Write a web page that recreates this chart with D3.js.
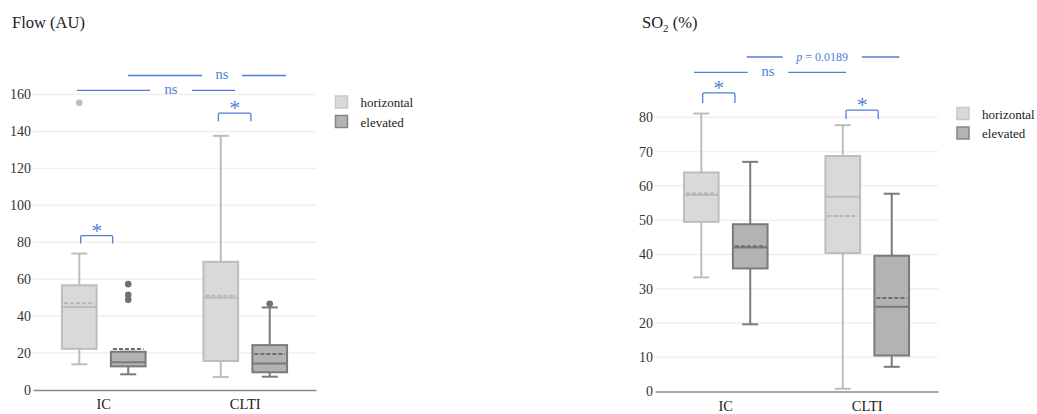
<!DOCTYPE html>
<html>
<head>
	<meta charset="utf-8">
	<title>Flow and SO2</title>
	<style>
		body { margin: 0; background: #fff; }
		svg { display: block; }
	</style>
</head>
<body>
	<svg width="1037" height="414" font-family="Liberation Serif"></svg>
<script src="https://cdn.jsdelivr.net/npm/d3@7"></script>
<script>
	// categories and groups
	const categories = ["IC", "CLTI"]
	const groups = ["horizontal", "elevated"]

	// box order: IC-horizontal, IC-elevated, CLTI-horizontal, CLTI-elevated
	const flowMin = [13.9, 8.5, 7.0, 7.2]
	const flowQ1 = [22.3, 12.8, 15.7, 9.6]
	const flowMedian = [44.9, 15.0, 49.9, 14.4]
	const flowQ3 = [56.7, 20.7, 69.4, 24.3]
	const flowMax = [73.9, 20.7, 137.6, 44.7]
	const flowMean = [47.0, 22.2, 51.0, 19.5]
	const flowOutliers = [[155.5], [57.3, 51.5, 48.8], [], [46.7]]
	const flowTicks = [0, 20, 40, 60, 80, 100, 120, 140, 160]

	const so2Min = [33.3, 19.6, 0.8, 7.2]
	const so2Q1 = [49.5, 35.9, 40.4, 10.5]
	const so2Median = [57.3, 42.0, 56.8, 24.7]
	const so2Q3 = [63.9, 48.8, 68.7, 39.6]
	const so2Max = [81.1, 67.0, 77.7, 57.7]
	const so2Mean = [57.8, 42.4, 51.2, 27.3]
	const so2Outliers = [[], [], [], []]
	const so2Ticks = [0, 10, 20, 30, 40, 50, 60, 70, 80]

	// significance marks: x in category units (0 = IC, 1 = CLTI)
	const flowStars = [{ x1: -0.163, x2: 0.063, y: 83.6, leg: 8 }, { x1: 0.81, x2: 1.04, y: 149.9, leg: 8 }]
	const flowLines = [
		{ x1: -0.189, g1: 0.327, g2: 0.623, x2: 0.928, y: 162.2, label: "ns" },
		{ x1: 0.171, g1: 0.694, g2: 0.977, x2: 1.288, y: 170.3, label: "ns" }
	]
	const so2Stars = [{ x1: -0.163, x2: 0.065, y: 87.1, leg: 10 }, { x1: 0.85, x2: 1.078, y: 82.1, leg: 9 }]
	const so2Lines = [
		{ x1: -0.224, g1: 0.155, g2: 0.442, x2: 0.85, y: 93.1, label: "ns" },
		{ x1: 0.148, g1: 0.402, g2: 0.961, x2: 1.227, y: 97.6, label: "p" }
	]

	const FONT = "Liberation Serif"
	const fills = { horizontal: "#d9d9d9", elevated: "#b3b3b3" }
	const strokes = { horizontal: "#bdbdbd", elevated: "#7a7a7a" }
	const blue = "#4f80d6"
	const svg = d3.select("svg")

	function drawPanel(p) {
		let x = d3.scaleBand().domain(categories).range(p.xr)
		let y = d3.scaleLinear().domain([0, d3.max(p.ticks)]).range(p.yr)
		let bw = x.bandwidth()
		let u = d => x(categories[0]) + bw / 2 + d * bw
		let g = svg.append("g")

		//title
		let t = g.append("text").attr("x", p.titleX).attr("y", 28)
			.attr("font-family", FONT).attr("font-size", 16.5).attr("fill", "#222")
		p.title.forEach(s => t.append("tspan").attr("font-size", s.sub ? 11 : 16.5)
			.attr("dy", s.dy || 0).text(s.t))

		//grid
		g.append("g").selectAll("line").data(p.ticks.slice(1)).enter().append("line")
			.attr("x1", p.xr[0]).attr("x2", p.xr[1])
			.attr("y1", d => y(d)).attr("y2", d => y(d))
			.attr("stroke", "#efefef").attr("stroke-width", 1.5)
		//y ticks
		let ya = g.append("g").attr("transform", `translate(${p.xr[0]},0)`)
			.call(d3.axisLeft(y).tickValues(p.ticks).tickSize(0).tickPadding(2))
		ya.select(".domain").remove()
		ya.attr("font-family", FONT).attr("font-size", 14)
		ya.selectAll("text").attr("fill", "#333")
		//x axis
		let xa = g.append("g").attr("transform", `translate(0,${p.yr[0]})`)
			.call(d3.axisBottom(x).tickSize(0).tickPadding(9))
		xa.select(".domain").attr("stroke", "#8a8a8a").attr("stroke-width", 1.5)
		xa.attr("font-family", FONT).attr("font-size", 14.5)
		xa.selectAll("text").attr("fill", "#222")

		//boxes
		let boxes = []
		categories.forEach((c, ci) => groups.forEach((gr, gi) => {
			let i = ci * 2 + gi
			boxes.push({ c, gr, cx: x(c) + bw / 2 + (gi === 0 ? -1 : 1) * bw * 0.173,
				min: p.min[i], q1: p.q1[i], med: p.median[i], q3: p.q3[i], max: p.max[i],
				mean: p.mean[i], out: p.outliers[i] })
		}))
		let bx = g.append("g").selectAll("g").data(boxes).enter().append("g")
		let boxW = bw * 0.245, capW = 16
		bx.append("line").attr("x1", d => d.cx).attr("x2", d => d.cx)
			.attr("y1", d => y(d.min)).attr("y2", d => y(d.max))
			.attr("stroke", d => strokes[d.gr]).attr("stroke-width", 2)
		bx.selectAll(".cap").data(d => [d.min, d.max].map(v => ({ v, d }))).enter().append("line")
			.attr("x1", e => e.d.cx - capW / 2).attr("x2", e => e.d.cx + capW / 2)
			.attr("y1", e => y(e.v)).attr("y2", e => y(e.v))
			.attr("stroke", e => strokes[e.d.gr]).attr("stroke-width", 2)
		bx.append("rect").attr("x", d => d.cx - boxW / 2).attr("width", boxW)
			.attr("y", d => y(d.q3)).attr("height", d => y(d.q1) - y(d.q3))
			.attr("fill", d => fills[d.gr]).attr("stroke", d => strokes[d.gr]).attr("stroke-width", 2)
		bx.append("line").attr("x1", d => d.cx - boxW / 2).attr("x2", d => d.cx + boxW / 2)
			.attr("y1", d => y(d.med)).attr("y2", d => y(d.med))
			.attr("stroke", d => strokes[d.gr]).attr("stroke-width", 2)
		bx.append("line").attr("x1", d => d.cx - boxW / 2 + 2).attr("x2", d => d.cx + boxW / 2 - 2)
			.attr("y1", d => y(d.mean)).attr("y2", d => y(d.mean))
			.attr("stroke", d => d.gr === "horizontal" ? "#b5b5b5" : "#6e6e6e")
			.attr("stroke-width", 2).attr("stroke-dasharray", "4,2")
		bx.selectAll("circle").data(d => d.out.map(v => ({ v, d }))).enter().append("circle")
			.attr("cx", e => e.d.cx).attr("cy", e => y(e.v)).attr("r", 3.3)
			.attr("fill", e => e.d.gr === "horizontal" ? "#bdbdbd" : "#707070")

		//significance brackets
		let sg = g.append("g").attr("fill", "none").attr("stroke", blue).attr("stroke-width", 1.3)
		sg.selectAll("path").data(p.stars).enter().append("path")
			.attr("d", d => `M${u(d.x1)},${y(d.y) + d.leg}V${y(d.y) + 1.5}q0,-1.5 1.5,-1.5H${u(d.x2) - 1.5}q1.5,0 1.5,1.5V${y(d.y) + d.leg}`)
		g.selectAll(".star").data(p.stars).enter().append("text")
			.attr("x", d => (u(d.x1) + u(d.x2)) / 2).attr("y", d => y(d.y) + 2)
			.attr("font-family", FONT).attr("text-anchor", "middle").attr("font-size", 22).attr("fill", blue).text("*")
		sg.selectAll("line").data(p.lines.flatMap(d => [[d.x1, d.g1, d.y], [d.g2, d.x2, d.y]])).enter().append("line")
			.attr("x1", d => u(d[0])).attr("x2", d => u(d[1]))
			.attr("y1", d => y(d[2])).attr("y2", d => y(d[2]))
		let lt = g.selectAll(".lab").data(p.lines).enter().append("text")
			.attr("x", d => (u(d.g1) + u(d.g2)) / 2).attr("y", d => y(d.y) + 4)
			.attr("font-family", FONT).attr("text-anchor", "middle").attr("fill", blue)
			.attr("font-size", d => d.label === "ns" ? 14.5 : 12)
		lt.filter(d => d.label === "ns").text("ns")
		lt.filter(d => d.label === "p").each(function () {
			let s = d3.select(this)
			s.append("tspan").attr("font-style", "italic").text("p")
			s.append("tspan").text(" = 0.0189")
		})

		//legend
		let lg = g.append("g").selectAll("g").data(groups).enter().append("g")
			.attr("transform", (d, i) => `translate(${p.legX},${p.legY + i * 19.5})`)
		lg.append("rect").attr("width", 12).attr("height", 12)
			.attr("fill", d => fills[d]).attr("stroke", d => d === "horizontal" ? "#c8c8c8" : "#858585")
			.attr("stroke-width", 1.5)
		lg.append("text").attr("x", 25).attr("y", 11).attr("font-family", FONT)
			.attr("font-size", 13).attr("fill", "#222").text(d => d)
	}

	drawPanel({ xr: [33, 316], yr: [390, 94.5], ticks: flowTicks,
		min: flowMin, q1: flowQ1, median: flowMedian, q3: flowQ3, max: flowMax, mean: flowMean, outliers: flowOutliers,
		stars: flowStars, lines: flowLines, title: [{ t: "Flow (AU)" }], titleX: 12, legX: 335.5, legY: 96 })
	drawPanel({ xr: [655, 938], yr: [391.5, 117.3], ticks: so2Ticks,
		min: so2Min, q1: so2Q1, median: so2Median, q3: so2Q3, max: so2Max, mean: so2Mean, outliers: so2Outliers,
		stars: so2Stars, lines: so2Lines, title: [{ t: "SO" }, { t: "2", sub: true, dy: 4 }, { t: " (%)", dy: -4 }],
		titleX: 642, legX: 957, legY: 107.5 })
</script>
</body>
</html>
